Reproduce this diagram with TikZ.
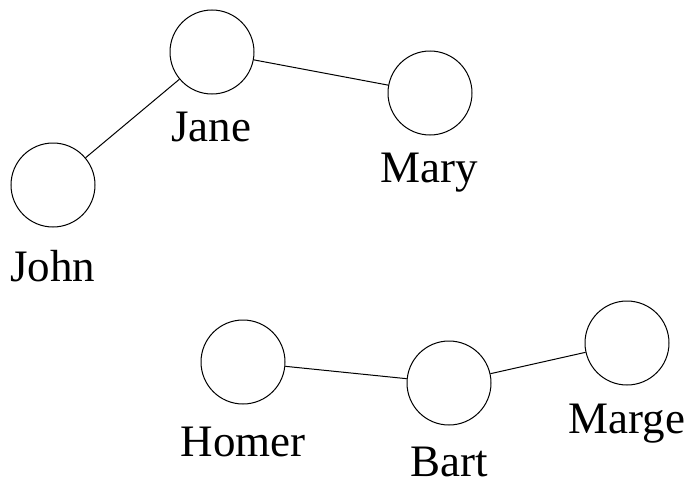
\documentclass[tikz,border=0pt]{standalone}
\usepackage{fontspec}
\setmainfont{Liberation Serif}
\begin{document}
\begin{tikzpicture}[x=1pt,y=-1pt,
  person/.style={circle,draw,line width=1pt,minimum size=84pt,inner sep=0pt},
  lbl/.style={anchor=base,font=\fontsize{45}{50}\selectfont,inner sep=0pt},
  link/.style={line width=1pt}]
\useasboundingbox (0,0) rectangle (688,479);
\node[person] (jane) at (212,52) {};
\node[person] (mary) at (430,93) {};
\node[person] (john) at (53,185) {};
\node[person] (homer) at (243,362) {};
\node[person] (bart) at (449,383) {};
\node[person] (marge) at (627,343) {};
\node[lbl] (ljane) at (211,141) {Jane};
\node[lbl] (lmary) at (429,182) {Mary};
\node[lbl] (ljohn) at (53,281) {John};
\node[lbl] (lhomer) at (243,456) {Homer};
\node[lbl] (lbart) at (449,476) {Bart};
\node[lbl] (lmarge) at (627,433) {Marge};
\draw[link] (jane) -- (john);
\draw[link] (jane) -- (mary);
\draw[link] (homer) -- (bart);
\draw[link] (bart) -- (marge);
\end{tikzpicture}
\end{document}
